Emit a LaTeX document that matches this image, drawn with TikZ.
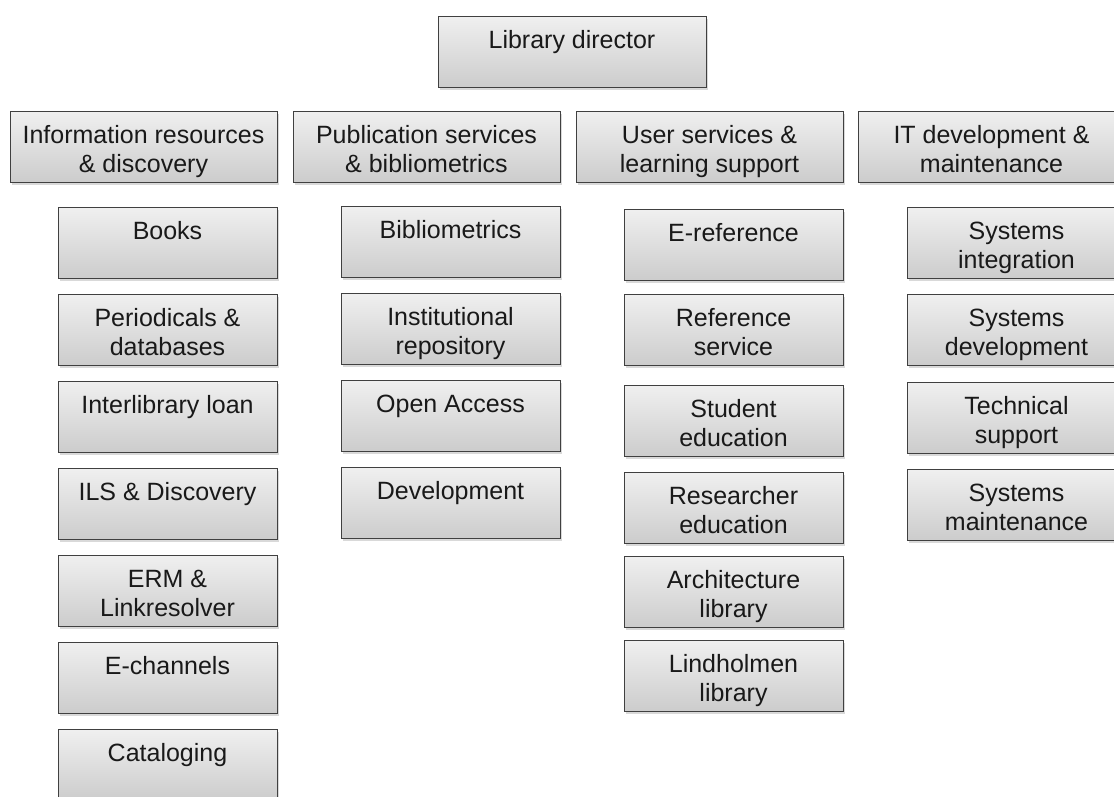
\documentclass[tikz,border=0pt]{standalone}
\usepackage{fontspec}
\setmainfont{Liberation Sans}
\usetikzlibrary{shadows}

\begin{document}
\begin{tikzpicture}[x=1pt,y=-1pt]
    \tikzstyle{unit}=[draw=black!75,line width=0.8pt,top color=black!6,bottom color=black!20,
        drop shadow={shadow xshift=1.5pt,shadow yshift=-2.5pt,opacity=0.3},
        anchor=north,inner xsep=4pt,inner ysep=0pt,text height=32pt,text depth=39pt,
        align=center,text=black!90,font=\fontsize{25}{29.5}\selectfont]
    \tikzstyle{two}=[text height=61.5pt,text depth=9.5pt]
    \tikzstyle{head}=[unit,two,minimum width=267pt]
    \tikzstyle{sub}=[unit,minimum width=219pt]
    \useasboundingbox (0,0) rectangle (1114,796);
    \clip (0,0) rectangle (1114,796);
    % top
    \node (dir)[unit,minimum width=268pt] at (572,16) {Library director};
    % departments
    \node (infores)[head] at (143.5,111) {Information resources\\\& discovery};
    \node (pubserv)[head] at (426.5,111) {Publication services\\\& bibliometrics};
    \node (userserv)[head] at (709.5,111) {User services \&\\learning support};
    \node (itdev)[head] at (991.5,111) {IT development \&\\maintenance};
    % information resources
    \node (books)[sub] at (167.5,207) {Books};
    \node (periodicals)[sub,two] at (167.5,294) {Periodicals \&\\databases};
    \node (ill)[sub] at (167.5,381) {Interlibrary loan};
    \node (ils)[sub] at (167.5,468) {ILS \& Discovery};
    \node (erm)[sub,two] at (167.5,555) {ERM \&\\Linkresolver};
    \node (echannels)[sub] at (167.5,642) {E-channels};
    \node (cataloging)[sub] at (167.5,729) {Cataloging};
    % publication services
    \node (bibliometrics)[sub] at (450.5,206) {Bibliometrics};
    \node (repository)[sub,two] at (450.5,293) {Institutional\\repository};
    \node (openaccess)[sub] at (450.5,380) {Open Access};
    \node (development)[sub] at (450.5,467) {Development};
    % user services
    \node (ereference)[sub] at (733.5,209) {E-reference};
    \node (refservice)[sub,two] at (733.5,294) {Reference\\service};
    \node (studented)[sub,two] at (733.5,385) {Student\\education};
    \node (researched)[sub,two] at (733.5,472) {Researcher\\education};
    \node (archlib)[sub,two] at (733.5,556) {Architecture\\library};
    \node (lindholmen)[sub,two] at (733.5,640) {Lindholmen\\library};
    % IT
    \node (sysint)[sub,two] at (1016.5,207) {Systems\\integration};
    \node (sysdev)[sub,two] at (1016.5,294) {Systems\\development};
    \node (techsupport)[sub,two] at (1016.5,382) {Technical\\support};
    \node (sysmaint)[sub,two] at (1016.5,469) {Systems\\maintenance};
\end{tikzpicture}
\end{document}
